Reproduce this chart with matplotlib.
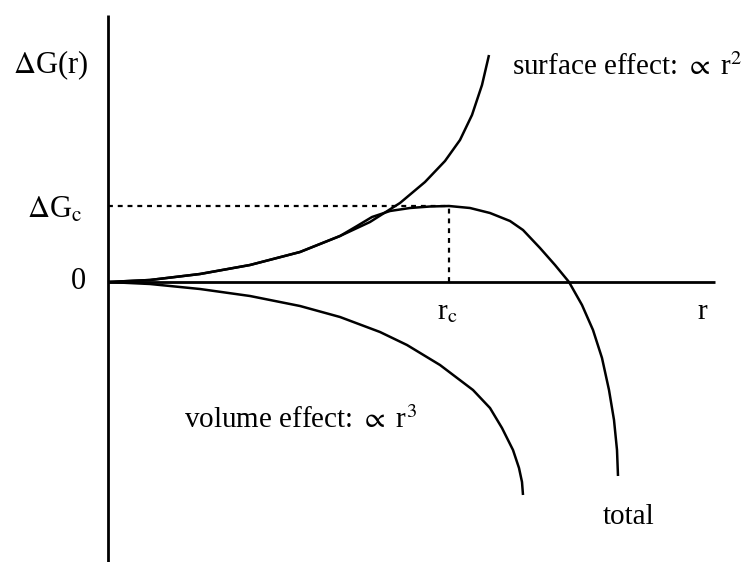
import numpy as np
import matplotlib
matplotlib.use("Agg")
import matplotlib.pyplot as plt

plt.rcParams['font.family'] = ['Liberation Serif', 'DejaVu Serif']
plt.rcParams['mathtext.fontset'] = 'stix'

# punkty (r, dG), jednostki umowne
surface_r = [0.00, 0.42, 0.92, 1.42, 1.92, 2.32, 2.62, 2.92, 3.17, 3.37, 3.52, 3.64, 3.74, 3.81]
surface_g = [0.00, 0.02, 0.08, 0.17, 0.30, 0.46, 0.60, 0.79, 1.00, 1.21, 1.42, 1.67, 1.97, 2.27]

volume_r = [0.00, 0.42, 0.92, 1.42, 1.92, 2.32, 2.72, 2.99, 3.32, 3.65, 3.82, 3.94,
            4.05, 4.11, 4.14, 4.15]
volume_g = [0.00, -0.02, -0.07, -0.14, -0.24, -0.35, -0.50, -0.63, -0.83, -1.08, -1.26, -1.46,
            -1.68, -1.86, -2.00, -2.13]

total_r = [0.00, 0.42, 0.92, 1.42, 1.92, 2.32, 2.49, 2.64, 2.82, 3.02, 3.22, 3.41, 3.62,
           3.82, 4.02, 4.15, 4.32, 4.47, 4.61, 4.74, 4.85, 4.94, 5.01, 5.06, 5.09, 5.10]
total_g = [0.00, 0.02, 0.08, 0.17, 0.30, 0.46, 0.56, 0.65, 0.71, 0.74, 0.755, 0.76, 0.74,
           0.69, 0.61, 0.52, 0.34, 0.17, 0.00, -0.23, -0.48, -0.76, -1.08, -1.38, -1.68, -1.94]

r_c = 3.41
g_c = 0.76

fig = plt.figure(figsize=(7.54, 5.62), dpi=100)
ax = fig.add_axes([0, 0, 1, 1])
ax.set_xlim(-1.08, 6.46)
ax.set_ylim(-2.80, 2.82)
ax.axis('off')

# osie
ax.plot([0, 0], [-2.80, 2.67], color='black', lw=2.0, solid_capstyle='butt')
ax.plot([0, 6.07], [0, 0], color='black', lw=2.0, solid_capstyle='butt')

# linie przerywane do maksimum
ax.plot([0, r_c], [g_c, g_c], color='black', lw=1.6, linestyle=(0, (2.2, 2.2)))
ax.plot([r_c, r_c], [0, g_c], color='black', lw=1.6, linestyle=(0, (2.2, 2.2)))

# krzywe
for xs, ys in [(surface_r, surface_g), (volume_r, volume_g), (total_r, total_g)]:
    ax.plot(xs, ys, color='black', lw=1.8, solid_joinstyle='round', solid_capstyle='butt')

fs = 21
ax.text(-0.57, 2.17, r'$\Delta$G(r)', fontsize=22, ha='center', va='center')
ax.text(-0.53, 0.72, r'$\Delta$G$_\mathrm{c}$', fontsize=22, ha='center', va='center')
ax.text(-0.30, 0.0, '0', fontsize=22, ha='center', va='center')
ax.text(3.39, -0.30, r'r$_\mathrm{c}$', fontsize=fs, ha='center', va='center')
ax.text(5.94, -0.30, 'r', fontsize=fs, ha='center', va='center')
ax.text(4.04, 2.15, r'surface effect: $\propto$ r$^2$', fontsize=fs, ha='left', va='center')
ax.text(0.76, -1.38, r'volume effect: $\propto$ r$^3$', fontsize=fs, ha='left', va='center')
ax.text(4.95, -2.35, 'total', fontsize=fs, ha='left', va='center')

fig.savefig('out.png', dpi=100)
